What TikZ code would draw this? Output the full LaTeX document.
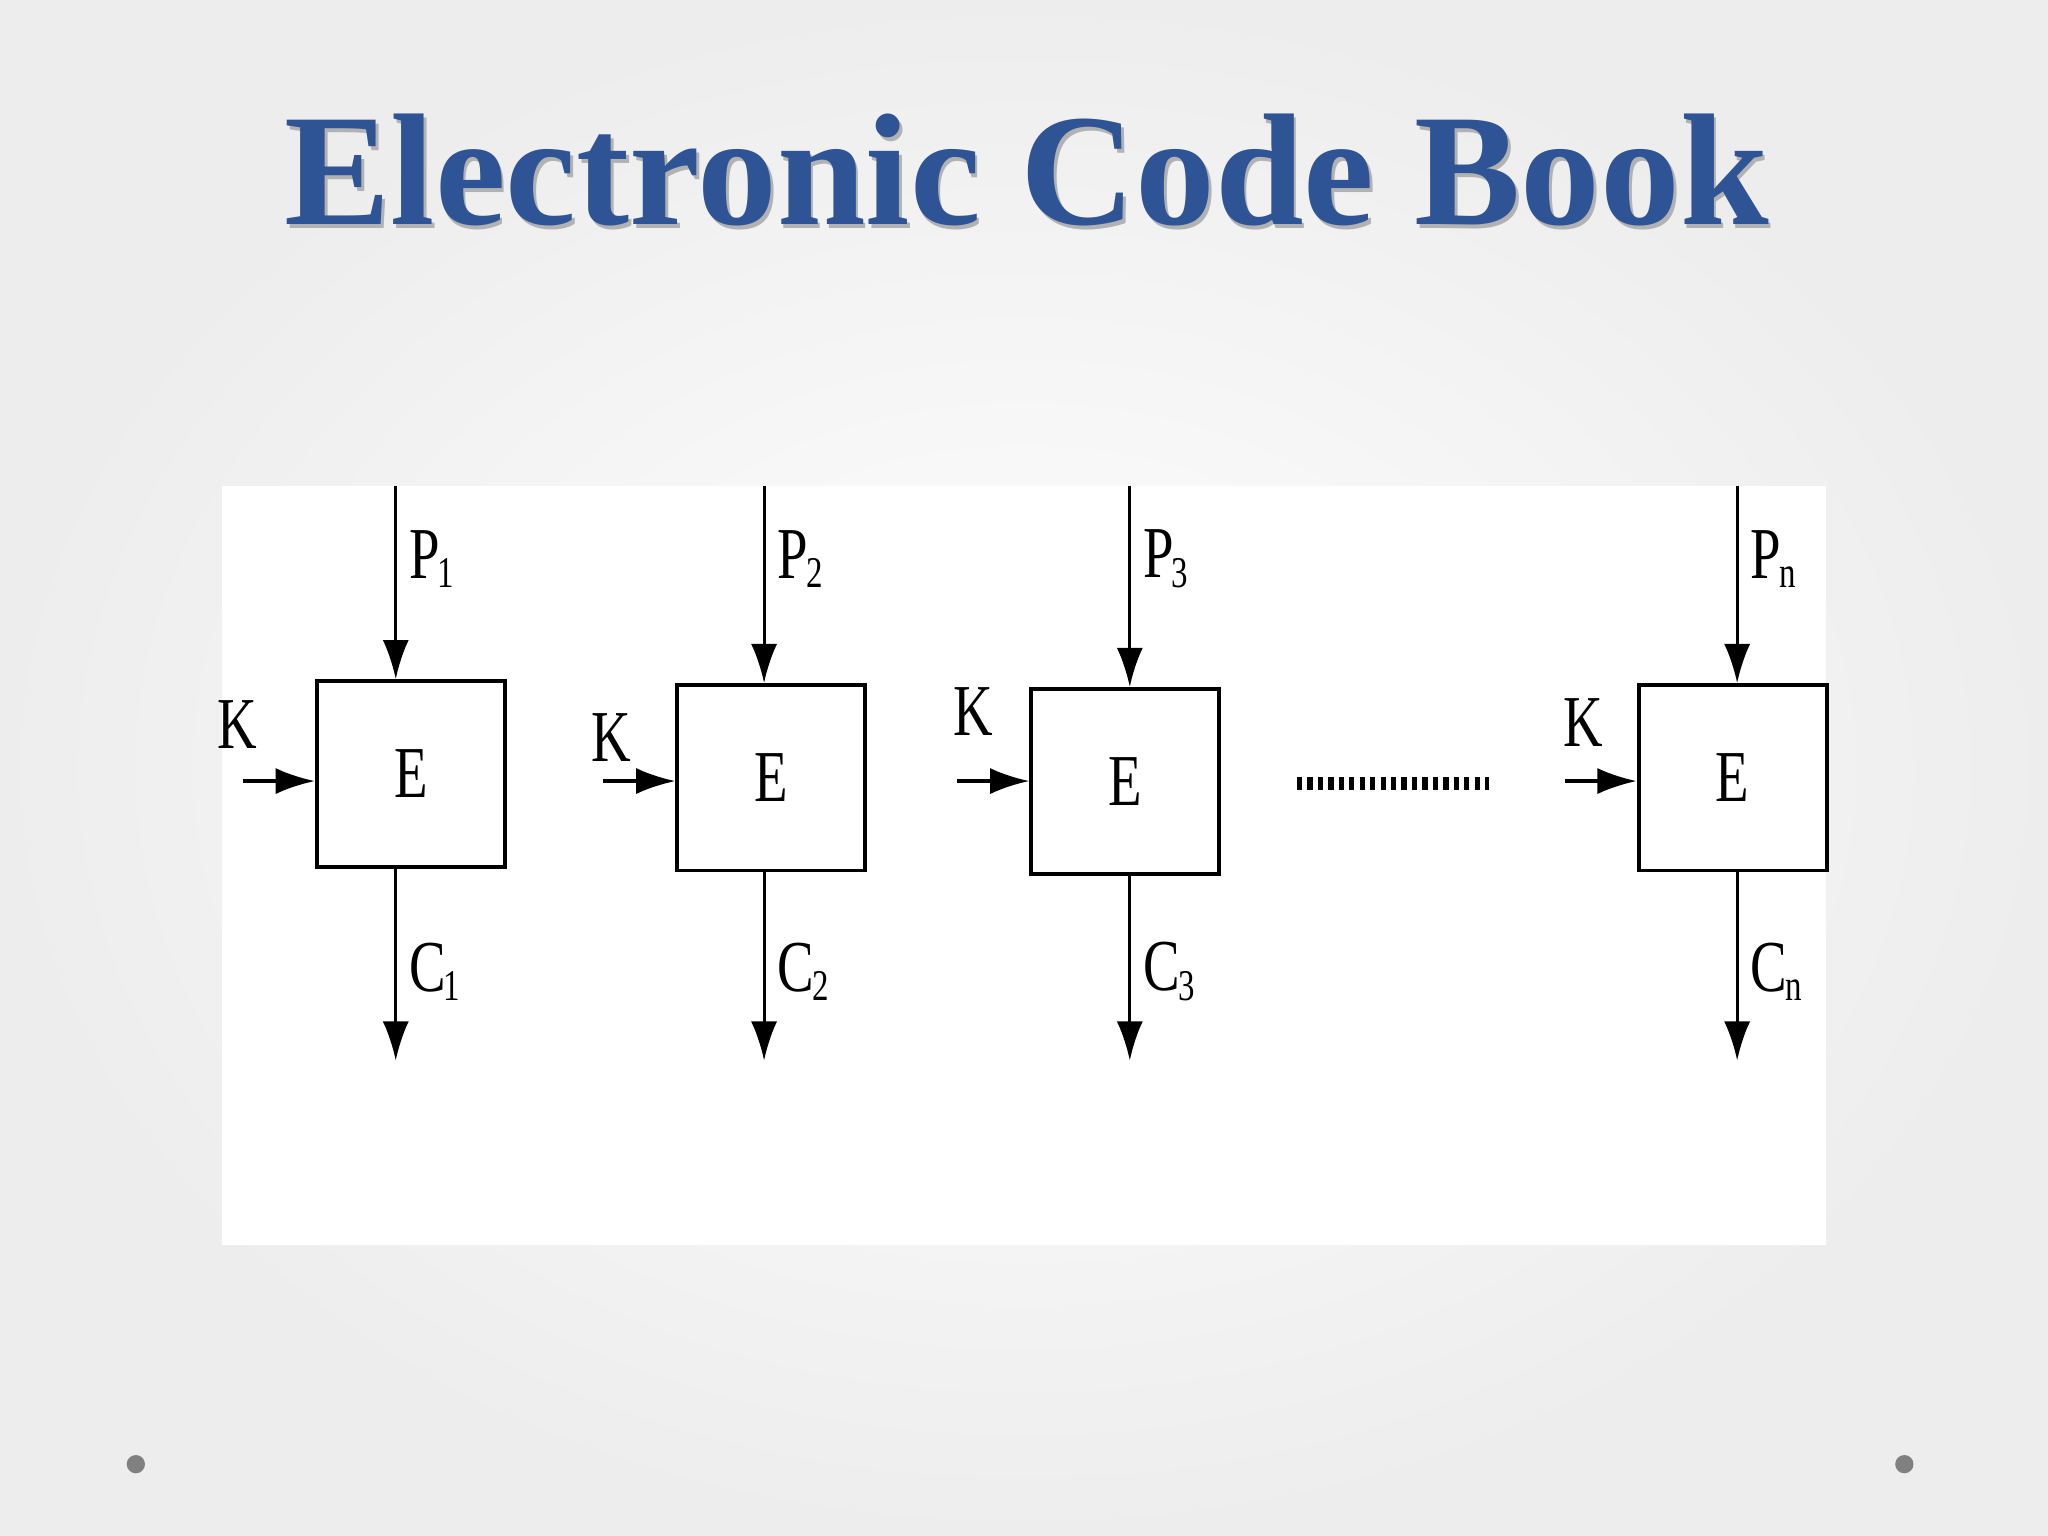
\documentclass[tikz,border=0pt]{standalone}
\usepackage{fontspec}
\setmainfont{Liberation Serif}
\usetikzlibrary{arrows.meta}
\definecolor{titleblue}{RGB}{46,84,150}
\tikzset{
  ebox/.style={draw,line width=1.5pt,minimum width=72pt,minimum height=71pt,inner sep=0pt},
  arr/.style={line width=1.2pt,-{Latex[length=15pt,width=10pt]}},
  lbl/.style={font=\fontsize{28}{30}\selectfont,inner sep=0pt},
}
\newcommand{\nl}[2]{\scalebox{0.75}[1]{#1\kern-1pt$_{\scalebox{0.6}{#2}}$}}
\begin{document}
\begin{tikzpicture}[x=0.5pt,y=-0.5pt]
\useasboundingbox (0,0) rectangle (1568,1176);
\shade[inner color=white,outer color=gray!14] (0,0) rectangle (1568,1176);
\node[font=\bfseries\fontsize{61}{66}\selectfont,text=black!30] at (788,133) {Electronic Code Book};
\node (title)[font=\bfseries\fontsize{61}{66}\selectfont,text=titleblue] at (786,130) {Electronic Code Book};
\fill[white] (170,372) rectangle (1398,953);
\foreach \i/\xl/\yt/\k/\kx/\ky/\ax in {1/241/520/1/182/555/303, 2/517/523/2/468/565/585, 3/788/526/3/745/545/865, 4/1253/523/n/1212/553/1330}{
  \node[ebox,anchor=north west] (b\i) at (\xl,\yt) {};
  \node[lbl] at (b\i.center) {\scalebox{0.75}[1]{E}};
  \coordinate (pt\i) at (\ax,372);
  \coordinate (pb\i) at (\ax,\yt);
  \draw[arr] (pt\i) -- (pb\i);
  \coordinate (ct\i) at (\ax,\yt+143);
  \coordinate (cb\i) at (\ax,812);
  \draw[arr] (ct\i) -- (cb\i);
  \coordinate (kl\i) at (\xl-55,598);
  \draw[arr] (kl\i) -- (b\i.west |- kl\i);
  \node[lbl] (k\i) at (\kx,\ky) {\scalebox{0.75}[1]{K}};
  \node[lbl,anchor=west] (p\i) at (\ax+10,428) {\nl{P}{\k}};
  \node[lbl,anchor=west] (c\i) at (\ax+10,744) {\nl{C}{\k}};
}
\coordinate (d1) at (993,600); \coordinate (d2) at (1140,600);
\draw[line width=5pt,dash pattern=on 2pt off 2pt] (d1) -- (d2);
\fill[gray] (104,1121) circle (7);
\fill[gray] (1458,1121) circle (7);
\end{tikzpicture}
\end{document}
